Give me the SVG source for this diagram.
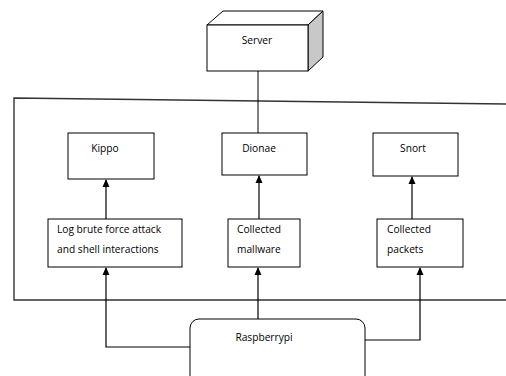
<svg xmlns="http://www.w3.org/2000/svg" width="506" height="376" viewBox="0 0 506 376">
<style>
.box{fill:#fff;stroke:#000;stroke-width:1}
.t{font-family:"Open Sans","Liberation Sans",sans-serif;font-size:10.2px;fill:#000}
.c{fill:none;stroke:#000;stroke-width:1.2}
.frame{fill:none;stroke:#333;stroke-width:1.4}
</style>
<defs>
<marker id="ah" markerWidth="8" markerHeight="8" refX="7" refY="4" orient="auto" markerUnits="userSpaceOnUse">
<path d="M0,0.5 L8,4 L0,7.5 Z" fill="#000"/>
</marker>
</defs>
<g id="frame">
<path class="frame" d="M506,104 L14,98 L14,300 L506,300"/>
</g>
<g id="server">
<polygon points="207,25 223,11 323,11 308,25" fill="#fff" stroke="#000"/>
<polygon points="308,25 323,11 323,57 308,71" fill="#c8c8c8" stroke="#000"/>
<rect class="box" x="207" y="25" width="101" height="46"/>
<text class="t" x="257" y="44" text-anchor="middle">Server</text>
</g>
<g id="kippo">
<rect class="box" x="68" y="133" width="86" height="46"/>
<text class="t" x="105" y="152" text-anchor="middle">Kippo</text>
</g>
<g id="dionae">
<rect class="box" x="222" y="133" width="85" height="42"/>
<text class="t" x="259" y="152" text-anchor="middle">Dionae</text>
</g>
<g id="snort">
<rect class="box" x="373" y="133" width="85" height="43"/>
<text class="t" x="413" y="152" text-anchor="middle">Snort</text>
</g>
<g id="log">
<rect class="box" x="48" y="219" width="134" height="48"/>
<text class="t" x="57" y="233">Log brute force attack</text>
<text class="t" x="57" y="253">and shell interactions</text>
</g>
<g id="mallware">
<rect class="box" x="228" y="219" width="72" height="48"/>
<text class="t" x="237" y="233">Collected</text>
<text class="t" x="237" y="253">mallware</text>
</g>
<g id="packets">
<rect class="box" x="377" y="219" width="86" height="48"/>
<text class="t" x="387" y="233">Collected</text>
<text class="t" x="387" y="253">packets</text>
</g>
<g id="raspberrypi">
<rect class="box" x="190" y="319" width="175" height="70" rx="9" ry="9"/>
<text class="t" x="264" y="341" text-anchor="middle">Raspberrypi</text>
</g>
<g id="connectors">
<line class="c" x1="258" y1="71" x2="258" y2="133" style="stroke-width:1"/>
<line class="c" x1="106" y1="219" x2="106" y2="180" marker-end="url(#ah)"/>
<line class="c" x1="259" y1="219" x2="259" y2="176" marker-end="url(#ah)"/>
<line class="c" x1="412" y1="219" x2="412" y2="177" marker-end="url(#ah)"/>
<polyline class="c" points="190,347 106,347 106,268" marker-end="url(#ah)"/>
<line class="c" x1="258" y1="319" x2="258" y2="268" marker-end="url(#ah)"/>
<polyline class="c" points="365,340 420,340 420,268" marker-end="url(#ah)"/>
</g>
</svg>
